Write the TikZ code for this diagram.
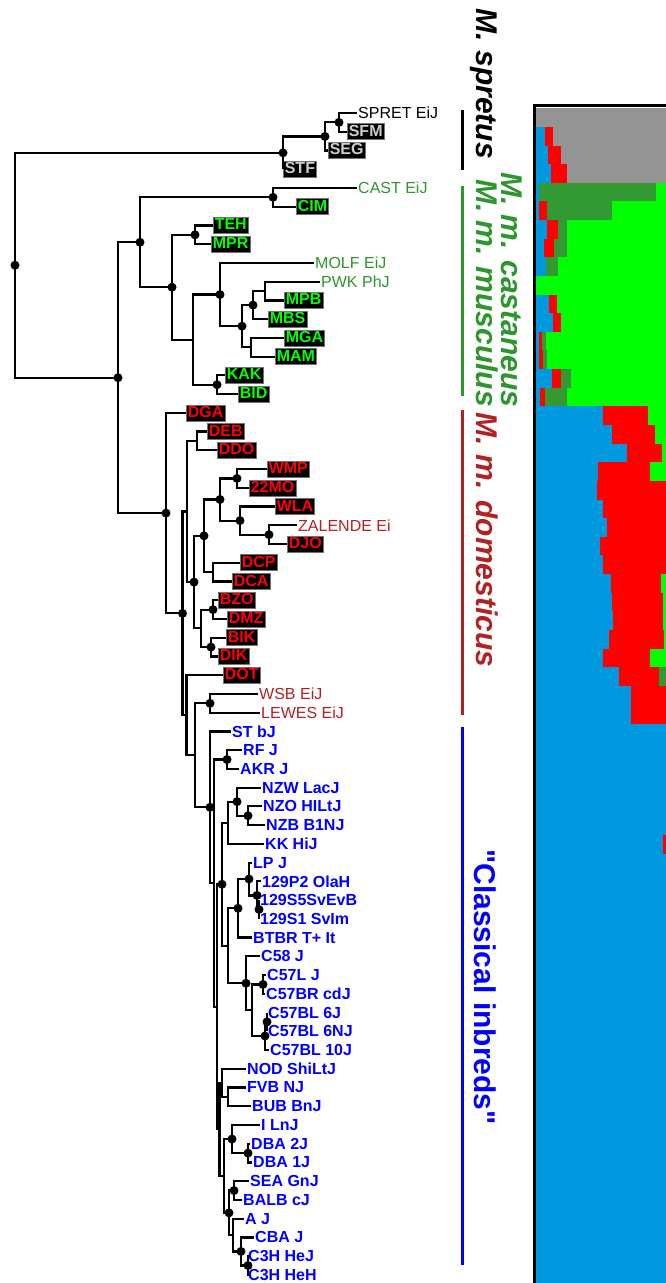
\documentclass[tikz,border=0pt]{standalone}
\usepackage{fontspec}
\setmainfont[Ligatures=TeXOff]{Liberation Sans}
\usetikzlibrary{calc}
\definecolor{sgray}{RGB}{148,148,148}
\definecolor{sblue}{RGB}{0,153,224}
\definecolor{sred}{RGB}{255,0,0}
\definecolor{sgreen}{RGB}{0,255,0}
\definecolor{sdg}{RGB}{51,153,51}
\definecolor{cas}{RGB}{45,150,45}
\definecolor{dom}{RGB}{178,34,34}
\definecolor{cls}{RGB}{0,0,255}
\definecolor{boxgray}{RGB}{205,205,205}
\newcommand\inode[5]{%
  \path let \p1=($(#3)!0.5!(#4)$) in coordinate (#1) at (#2pt,\y1);
  \draw[edge] (#1) |- (#3);
  \draw[edge] (#1) |- (#4);
  \ifnum#5=1 \fill (#1) circle (4.5pt);\fi}
\newcommand\brow[2]{%
  \gdef\bx{536}%
  \foreach \c/\e in {#2}{%
    \fill[\c] (\bx,{T(#1)}) rectangle (\e,{T(#1+1)+0.4});
    \xdef\bx{\e}}}
\begin{document}
\begin{tikzpicture}[x=1pt,y=-1pt,
  declare function={Y(\i)=113+18.74*\i; T(\i)=108.3+18.63*\i;},
  edge/.style={line width=2.2pt},
  lbl/.style={anchor=west, inner xsep=1pt, inner ysep=0pt, font=\fontsize{16}{16}\selectfont},
  blbl/.style={lbl, font=\fontsize{16}{16}\selectfont\bfseries, text=cls},
  bx/.style={anchor=west, fill=black, draw=black!55, line width=0.6pt, inner xsep=1.5pt, inner ysep=1pt, text height=11.5pt, text depth=2.5pt, font=\fontsize{16}{16}\selectfont\bfseries},
  gbx/.style={bx,text=boxgray}, grbx/.style={bx,text=sgreen}, rbx/.style={bx,text=sred},
  clade/.style={rotate=-90, anchor=base, font=\fontsize{30}{30}\selectfont\bfseries\itshape},
  bracket/.style={line width=3pt}]
\useasboundingbox[fill=white] (0,0) rectangle (666,1283);

% ---------- STRUCTURE bars ----------
\fill[sblue] (536,{T(0)}) rectangle (666,1283);
\brow{0}{sgray/666}
\brow{1}{sblue/545,sred/553,sgray/666}
\brow{2}{sblue/548,sred/561,sgray/666}
\brow{3}{sblue/551,sred/567,sgray/666}
\brow{4}{sblue/539,sdg/656,sgreen/666}
\brow{5}{sblue/539,sred/547,sdg/612,sgreen/666}
\brow{6}{sblue/547,sred/558,sdg/567,sgreen/666}
\brow{7}{sblue/544,sred/554,sdg/567,sgreen/666}
\brow{8}{sblue/546,sdg/558,sgreen/666}
\brow{9}{sgreen/666}
\brow{10}{sblue/549,sred/557,sgreen/666}
\brow{11}{sblue/553,sred/561,sgreen/666}
\brow{12}{sblue/539,sred/542,sdg/546,sgreen/666}
\brow{13}{sblue/539,sred/543,sdg/547,sgreen/666}
\brow{14}{sblue/552,sred/561,sdg/571,sgreen/666}
\brow{15}{sblue/540,sred/545,sdg/567,sgreen/666}
\brow{16}{sblue/603,sred/648,sgreen/666}
\brow{17}{sblue/612,sred/655,sgreen/666}
\brow{18}{sblue/627,sred/662,sgreen/666}
\brow{19}{sblue/598,sred/650,sgreen/666}
\brow{20}{sblue/597,sred/666}
\brow{21}{sblue/603,sred/666}
\brow{22}{sblue/607,sred/666}
\brow{23}{sblue/600,sred/666}
\brow{24}{sblue/603,sred/666}
\brow{25}{sblue/611,sred/661,sgreen/666}
\brow{26}{sblue/612,sred/663,sgreen/666}
\brow{27}{sblue/613,sred/663,sgreen/666}
\brow{28}{sblue/609,sred/664,sgreen/666}
\brow{29}{sblue/603,sred/650,sgreen/666}
\brow{30}{sblue/619,sred/659,sdg/666}
\brow{31}{sblue/631,sred/666}
\brow{32}{sblue/631,sred/666}
\brow{39}{sblue/663,sred/666}
\draw[line width=3pt] (534.5,1290) -- (534.5,105.8) -- (670,105.8);

% ---------- clade labels ----------
\node[clade] (lspr) at (476,84) {M. spretus};
\node[clade,text=cas] (lcas) at (501,290) {M. m. castaneus};
\node[clade,text=cas] (lmus) at (476,293) {M. m. musculus};
\node[clade,text=dom] (ldom) at (476,540) {M. m. domesticus};
\node[clade,text=cls,font=\fontsize{30}{30}\selectfont\bfseries] (lcls) at (474,987) {"Classical inbreds"};
\draw[bracket] (462,110) -- (462,170);
\draw[bracket,cas] (462,186) -- (462,396);
\draw[bracket,dom] (462,410) -- (462,715);
\draw[bracket,cls] (462,727) -- (462,1265);

% ---------- leaves ----------
\node[lbl] (SPRET) at (357,{Y(0)}) {SPRET EiJ};
\node[gbx] (SFM) at (347,{Y(1)}) {SFM};
\node[gbx] (SEG) at (328,{Y(2)}) {SEG};
\node[gbx] (STF) at (283,{Y(3)}) {STF};
\node[lbl,text=cas] (CAST) at (357,{Y(4)}) {CAST EiJ};
\node[grbx] (CIM) at (296,{Y(5)}) {CIM};
\node[grbx] (TEH) at (213,{Y(6)}) {TEH};
\node[grbx] (MPR) at (211,{Y(7)}) {MPR};
\node[lbl,text=cas] (MOLF) at (314,{Y(8)}) {MOLF EiJ};
\node[lbl,text=cas] (PWK) at (320,{Y(9)}) {PWK PhJ};
\node[grbx] (MPB) at (284,{Y(10)}) {MPB};
\node[grbx] (MBS) at (268,{Y(11)}) {MBS};
\node[grbx] (MGA) at (284,{Y(12)}) {MGA};
\node[grbx] (MAM) at (275,{Y(13)}) {MAM};
\node[grbx] (KAK) at (225,{Y(14)}) {KAK};
\node[grbx] (BID) at (238,{Y(15)}) {BID};
\node[rbx] (DGA) at (186,{Y(16)}) {DGA};
\node[rbx] (DEB) at (207,{Y(17)}) {DEB};
\node[rbx] (DDO) at (217,{Y(18)}) {DDO};
\node[rbx] (WMP) at (267,{Y(19)}) {WMP};
\node[rbx] (MO22) at (249,{Y(20)}) {22MO};
\node[rbx] (WLA) at (275,{Y(21)}) {WLA};
\node[lbl,text=dom] (ZAL) at (297,{Y(22)}) {ZALENDE Ei};
\node[rbx] (DJO) at (287,{Y(23)}) {DJO};
\node[rbx] (DCP) at (240,{Y(24)}) {DCP};
\node[rbx] (DCA) at (232,{Y(25)}) {DCA};
\node[rbx] (BZO) at (218,{Y(26)}) {BZO};
\node[rbx] (DMZ) at (227,{Y(27)}) {DMZ};
\node[rbx] (BIK) at (226,{Y(28)}) {BIK};
\node[rbx] (DIK) at (218,{Y(29)}) {DIK};
\node[rbx] (DOT) at (223,{Y(30)}) {DOT};
\node[lbl,text=dom] (WSB) at (258,{Y(31)}) {WSB EiJ};
\node[lbl,text=dom] (LEW) at (260,{Y(32)}) {LEWES EiJ};
\node[blbl] (ST) at (231,{Y(33)}) {ST bJ};
\node[blbl] (RF) at (242,{Y(34)}) {RF J};
\node[blbl] (AKR) at (239,{Y(35)}) {AKR J};
\node[blbl] (NZW) at (261,{Y(36)}) {NZW LacJ};
\node[blbl] (NZO) at (262,{Y(37)}) {NZO HILtJ};
\node[blbl] (NZB) at (265,{Y(38)}) {NZB B1NJ};
\node[blbl] (KK) at (264,{Y(39)}) {KK HiJ};
\node[blbl] (LP) at (252,{Y(40)}) {LP J};
\node[blbl] (P2) at (261,{Y(41)}) {129P2 OlaH};
\node[blbl] (S5) at (259,{Y(42)}) {129S5SvEvB};
\node[blbl] (S1) at (259,{Y(43)}) {129S1 SvIm};
\node[blbl] (BTBR) at (252,{Y(44)}) {BTBR T+ It};
\node[blbl] (C58) at (260,{Y(45)}) {C58 J};
\node[blbl] (C57L) at (266,{Y(46)}) {C57L J};
\node[blbl] (C57BR) at (265,{Y(47)}) {C57BR cdJ};
\node[blbl] (B6J) at (267,{Y(48)}) {C57BL 6J};
\node[blbl] (B6NJ) at (267,{Y(49)}) {C57BL 6NJ};
\node[blbl] (B10J) at (269,{Y(50)}) {C57BL 10J};
\node[blbl] (NOD) at (246,{Y(51)}) {NOD ShiLtJ};
\node[blbl] (FVB) at (246,{Y(52)}) {FVB NJ};
\node[blbl] (BUB) at (251,{Y(53)}) {BUB BnJ};
\node[blbl] (ILN) at (260,{Y(54)}) {I LnJ};
\node[blbl] (DBA2) at (250,{Y(55)}) {DBA 2J};
\node[blbl] (DBA1) at (252,{Y(56)}) {DBA 1J};
\node[blbl] (SEA) at (249,{Y(57)}) {SEA GnJ};
\node[blbl] (BALB) at (242,{Y(58)}) {BALB cJ};
\node[blbl] (AJ) at (244,{Y(59)}) {A J};
\node[blbl] (CBA) at (254,{Y(60)}) {CBA J};
\node[blbl] (C3HJ) at (247,{Y(61)}) {C3H HeJ};
\node[blbl] (C3HH) at (247,{Y(62)}) {C3H HeH};

% ---------- internal nodes ----------
\inode{SPb}{339}{SPRET}{SFM}{1}
\inode{SPa}{325}{SPb}{SEG}{1}
\inode{SP}{283}{SPa}{STF}{1}
\inode{CAS}{273}{CAST}{CIM}{1}
\inode{TM}{195}{TEH}{MPR}{1}
\inode{PP}{265}{PWK}{MPB}{0}
\inode{Cc}{253}{PP}{MBS}{1}
\inode{Cd}{251}{MGA}{MAM}{0}
\inode{Cb}{242}{Cc}{Cd}{1}
\inode{Ca}{220}{MOLF}{Cb}{1}
\inode{KB}{217}{KAK}{BID}{1}
\inode{Ba}{193}{Ca}{KB}{0}
\inode{MM}{172}{TM}{Ba}{1}
\inode{AA}{140}{CAS}{MM}{1}
\inode{WM}{237}{WMP}{MO22}{1}
\inode{ZD}{269}{ZAL}{DJO}{1}
\inode{JJ}{240}{WLA}{ZD}{1}
\inode{II}{220}{WM}{JJ}{1}
\inode{DC}{213}{DCP}{DCA}{0}
\inode{HH}{204}{II}{DC}{1}
\inode{BZ}{213}{BZO}{DMZ}{1}
\inode{BK}{211}{BIK}{DIK}{1}
\inode{BD}{201}{BZ}{BK}{0}
\inode{GG}{194}{HH}{BD}{1}
\inode{DD}{197}{DEB}{DDO}{0}
\inode{FF}{187}{DD}{GG}{0}
\inode{WL}{210}{WSB}{LEW}{1}
\inode{RA}{227}{RF}{AKR}{1}
\inode{NZb}{248}{NZO}{NZB}{1}
\inode{NZa}{237}{NZW}{NZb}{1}
\inode{NZK}{228}{NZa}{KK}{0}
\inode{Sb}{259}{S5}{S1}{1}
\inode{Sa}{257}{P2}{Sb}{1}
\inode{LPa}{249}{LP}{Sa}{1}
\inode{LPB}{238}{LPa}{BTBR}{1}
\inode{CLBR}{263}{C57L}{C57BR}{1}
\inode{BSix}{267}{B6J}{B6NJ}{1}
\inode{BL}{265}{BSix}{B10J}{1}
\inode{CSeven}{252}{CLBR}{BL}{0}
\inode{CFive}{246}{C58}{CSeven}{1}
\inode{QQ}{228}{LPB}{CFive}{0}
\inode{MTwo}{222}{NZK}{QQ}{1}
\inode{FB}{228}{FVB}{BUB}{0}
\inode{NF}{222}{NOD}{FB}{0}
\inode{DB}{248}{DBA2}{DBA1}{1}
\inode{ID}{232}{ILN}{DB}{1}
\inode{SB}{234}{SEA}{BALB}{1}
\inode{CH}{248}{C3HJ}{C3HH}{1}
\inode{CC}{241}{CBA}{CH}{1}
\inode{AC}{233}{AJ}{CC}{0}
\inode{SBAC}{229}{SB}{AC}{1}
\inode{IDSB}{224}{ID}{SBAC}{0}
\inode{LOW}{219.5}{NF}{IDSB}{0}
\inode{XX}{217}{MTwo}{LOW}{0}
\inode{MA}{214}{RA}{XX}{0}
\inode{LL}{210}{ST}{MA}{1}
\inode{NN}{195}{WL}{LL}{0}
\inode{KK2}{186.5}{DOT}{NN}{0}
\inode{EE}{182.5}{FF}{KK2}{1}
\inode{DOM}{166}{DGA}{EE}{1}
\inode{MUS}{118}{AA}{DOM}{1}
\inode{ROOT}{15}{SP}{MUS}{1}
\end{tikzpicture}
\end{document}
